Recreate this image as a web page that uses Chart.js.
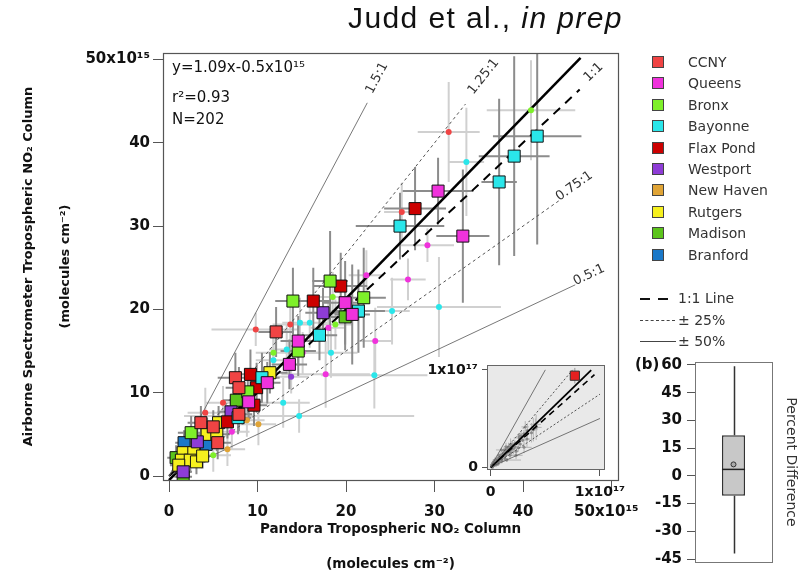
<!DOCTYPE html>
<html>
<head>
<meta charset="utf-8">
<title>Airborne vs Pandora NO2</title>
<script src="https://cdn.jsdelivr.net/npm/chart.js@4.4.1/dist/chart.umd.min.js"></script>
<style>
  body { margin: 0; background: #fff; }
  #wrap { position: relative; width: 800px; height: 571px; overflow: hidden; font-family: "DejaVu Sans", sans-serif; color: #111; }
  canvas { position: absolute; }
  .txt { position: absolute; white-space: nowrap; }
  #title { left: 348px; top: 3px; font: 30px "Liberation Sans", Arial, sans-serif; line-height: 30px; letter-spacing: 1.4px; }
  .stat { left: 172px; font-size: 15px; line-height: 15px; }
  .leg { font-size: 14px; line-height: 14px; color: #333; }
  .sw { position: absolute; width: 10px; height: 10px; border: 1px solid #444; }
  .ln { position: absolute; height: 0; }
</style>
</head>
<body>
<div id="wrap">
  <canvas id="main" width="800" height="582" style="left:0;top:0"></canvas>
  <canvas id="inset" width="250" height="180" style="left:400px;top:340px"></canvas>
  <canvas id="box" width="180" height="236" style="left:620px;top:340px"></canvas>
  <div id="title" class="txt">Judd et al., <i>in prep</i></div>
  <div class="txt stat" style="top:60px">y=1.09x-0.5x10¹⁵</div>
  <div class="txt stat" style="top:90px">r²=0.93</div>
  <div class="txt stat" style="top:112px">N=202</div>
  <div id="legend"></div>
</div>
<script>
// sites and colours
const sites = ['CCNY', 'Queens', 'Bronx', 'Bayonne', 'Flax Pond', 'Westport', 'New Haven', 'Rutgers', 'Madison', 'Branford'];
const siteColors = ['#f04444', '#f032dc', '#7ef02a', '#2ae6ea', '#cc0000', '#8e3cd6', '#e0a436', '#f6f01e', '#5cc41c', '#1a78c8'];

// [x, y, xErr, yErr] in 1e15 molecules cm-2, squares
const ccnySq = [[12.1, 17.3, 2, 3], [7.5, 11.8, 2, 3], [7.9, 10.6, 1.5, 2.5], [7.9, 7.4, 1.5, 2], [3.6, 6.4, 1.5, 2], [5.0, 5.9, 1.5, 2], [5.5, 4.0, 1.5, 2]];
const queensSq = [[30.4, 34.2, 4, 4], [33.2, 28.8, 3, 8], [19.9, 20.8, 2.5, 5], [20.7, 19.4, 2, 6], [14.6, 16.2, 2, 3], [13.6, 13.4, 2, 3], [11.1, 11.2, 1.5, 2.5], [9.0, 8.9, 1.5, 2]];
const bronxSq = [[18.2, 23.4, 2, 6], [14.0, 21.0, 2, 4], [22.0, 21.4, 2.5, 6], [14.6, 15.0, 2, 3], [8.9, 10.1, 1.5, 2.5], [2.5, 5.2, 1.5, 2]];
const bayonneSq = [[41.6, 40.8, 5, 13], [39.0, 38.4, 4, 12], [37.3, 35.3, 2, 10], [26.1, 30.0, 5, 4], [21.4, 19.8, 3, 5], [17.0, 16.9, 2, 3], [10.5, 11.8, 2, 3], [7.8, 7.0, 1.5, 2]];
const flaxSq = [[27.8, 32.1, 3.5, 5], [19.4, 22.8, 3, 4], [16.3, 21.0, 2, 4], [9.2, 12.2, 2, 3], [9.9, 10.6, 2, 3], [9.6, 8.5, 1.5, 2.5], [6.6, 6.5, 1.5, 2]];
const westportSq = [[17.4, 19.6, 2, 3], [7.0, 7.7, 1.5, 2], [3.2, 4.1, 1.5, 2], [1.6, 0.5, 1, 1]];
const newHavenSq = [];
const rutgersSq = [[11.4, 12.4, 2, 2.5], [5.6, 6.4, 1.5, 2], [4.3, 5.0, 1.5, 2], [5.4, 5.0, 1.5, 2], [1.6, 2.8, 1, 1.5], [2.8, 2.8, 1, 1.5], [1.4, 1.9, 1, 1.5], [2.4, 1.9, 1, 1.5], [3.1, 1.7, 1, 1.5], [3.8, 2.4, 1, 1.5], [1.1, 1.3, 1, 1]];
const madisonSq = [[19.9, 19.1, 2, 4], [7.6, 9.1, 1.5, 2.5], [0.8, 2.2, 1, 1.5], [1.6, -0.1, 1, 1]];
const branfordSq = [[4.2, 3.8, 1.5, 2], [1.7, 4.0, 1, 1.5]];

// small dots
const ccnyDot = [[31.6, 41.3, 3.5, 6], [26.3, 31.7, 2, 3.5], [9.8, 17.6, 5, 2], [13.7, 18.2, 2, 3], [4.1, 7.6, 2, 3], [6.1, 8.8, 2, 2]];
const queensDot = [[29.2, 27.7, 3, 2], [27.0, 23.6, 2, 2.5], [23.3, 16.2, 2, 4], [17.7, 12.2, 5, 4], [18.0, 17.8, 2, 3], [22.3, 24.1, 2, 3], [7.1, 5.3, 2, 2], [15.1, 14.8, 2, 2.5]];
const bronxDot = [[40.9, 43.9, 5, 6], [18.5, 21.5, 2, 3], [18.8, 18.2, 2, 3], [11.8, 14.8, 2, 2.5], [5.0, 2.5, 2, 2]];
const bayonneDot = [[33.6, 37.7, 2, 6.5], [30.5, 20.3, 7, 6], [25.2, 19.8, 2, 4], [23.2, 12.1, 6, 4], [18.3, 14.8, 3, 3], [14.8, 18.4, 2, 3], [15.9, 18.4, 2, 3], [13.3, 15.2, 2, 3], [11.8, 13.9, 2, 3], [12.9, 8.8, 3, 3], [14.7, 7.2, 13, 2]];
const flaxDot = [];
const westportDot = [[13.8, 11.9, 2, 2]];
const newHavenDot = [[10.1, 6.2, 2, 2.5], [8.8, 6.7, 2, 2], [6.6, 3.2, 2, 2]];
const rutgersDot = [];
const madisonDot = [];
const branfordDot = [];

// inset point outside the main range, 1e17 units
const insetPoint = [[0.77, 0.94, 0, 0.08]];

// reference lines
const refLabels = ['1.5:1', '1.25:1', '1:1', '0.75:1', '0.5:1'];
const refSlopes = [2, 1.333, 1, 0.75, 0.5];
const refEnds = [22.4, 33.5, 46.4, 44.2, 45.9];
const refLabelX = [23.8, 35.8, 48.2, 46.0, 47.6];
const insetRefEnds = [0.5, 0.75, 0.95, 1.0, 1.0];
const fitSlope = 1.09, fitIntercept = -0.5, fitEnd = 46.5, insetFitEnd = 0.92;

// ticks
const xTicks = [0, 10, 20, 30, 40, 50];
const yTicks = [0, 10, 20, 30, 40, 50];
const insetTicks = [0, 1];
const boxTicks = [-45, -30, -15, 0, 15, 30, 45, 60];

// percent difference box plot
const boxQuartiles = [-10.8, 3.5, 22];
const boxWhiskers = [-42, 59.3];
const boxMean = [6.2];

const squareSets = [ccnySq, queensSq, bronxSq, bayonneSq, flaxSq, westportSq, newHavenSq, rutgersSq, madisonSq, branfordSq];
const dotSets = [ccnyDot, queensDot, bronxDot, bayonneDot, flaxDot, westportDot, newHavenDot, rutgersDot, madisonDot, branfordDot];

const FONT = 'DejaVu Sans';
const toPts = (arr, k = 1) => arr.map(([x, y, ex, ey]) => ({ x: x * k, y: y * k, ex: ex * k, ey: ey * k }));
const refStyle = [
  { c: '#555', w: 0.8, d: [] }, { c: '#555', w: 1, d: [3, 3] }, { c: '#000', w: 2, d: [9, 7] },
  { c: '#555', w: 1, d: [3, 3] }, { c: '#555', w: 0.8, d: [] }
];

function lineSet(pts, st, order) {
  return { data: pts, showLine: true, pointRadius: 0, borderColor: st.c, borderWidth: st.w, borderDash: st.d, order };
}

const errorBars = {
  id: 'errorBars',
  beforeDatasetsDraw(chart) {
    const { ctx, chartArea: a, scales: { x, y } } = chart;
    ctx.save();
    ctx.beginPath();
    ctx.rect(a.left, a.top, a.width, a.height);
    ctx.clip();
    [0, 1].forEach(layer => {
      chart.data.datasets.forEach(ds => {
        if (!ds.errColor || ds.errLayer !== layer) return;
        ctx.strokeStyle = ds.errColor;
        ctx.lineWidth = ds.errWidth;
        ctx.beginPath();
        ds.data.forEach(p => {
          const px = x.getPixelForValue(p.x), py = y.getPixelForValue(p.y);
          ctx.moveTo(x.getPixelForValue(p.x - p.ex), py);
          ctx.lineTo(x.getPixelForValue(p.x + p.ex), py);
          ctx.moveTo(px, y.getPixelForValue(p.y - p.ey));
          ctx.lineTo(px, y.getPixelForValue(p.y + p.ey));
        });
        ctx.stroke();
      });
    });
    ctx.restore();
  }
};

const frame = {
  id: 'frame',
  beforeDraw(chart, args, opts) {
    if (!opts.fill) return;
    const a = chart.chartArea;
    chart.ctx.save();
    chart.ctx.fillStyle = opts.fill;
    chart.ctx.fillRect(a.left, a.top, a.width, a.height);
    chart.ctx.restore();
  },
  afterDraw(chart, args, opts) {
    const { ctx, chartArea: a } = chart;
    ctx.save();
    ctx.strokeStyle = opts.color || '#555';
    ctx.lineWidth = opts.width || 1;
    ctx.strokeRect(Math.round(a.left) + 0.5, Math.round(a.top) + 0.5, Math.round(a.width), Math.round(a.height));
    ctx.restore();
  }
};

const lineLabels = {
  id: 'lineLabels',
  afterDatasetsDraw(chart) {
    const { ctx, scales: { x, y } } = chart;
    ctx.save();
    ctx.font = '13px "' + FONT + '"';
    ctx.fillStyle = '#333';
    ctx.textAlign = 'center';
    ctx.textBaseline = 'middle';
    refLabels.forEach((t, i) => {
      const lx = refLabelX[i];
      const px = x.getPixelForValue(lx), py = y.getPixelForValue(lx * refSlopes[i]);
      const ang = Math.atan2(y.getPixelForValue(0) - y.getPixelForValue(refSlopes[i]), x.getPixelForValue(1) - x.getPixelForValue(0));
      ctx.save();
      ctx.translate(px, py);
      ctx.rotate(-ang);
      ctx.fillText(t, 0, -3);
      ctx.restore();
    });
    ctx.restore();
  }
};

const tickFont = { family: FONT, size: 15, weight: 'bold' };
const setTicks = list => s => { s.ticks = list.map(v => ({ value: v })); };

// main scatter
const mainSets = [];
squareSets.forEach((arr, i) => {
  if (!arr.length) return;
  mainSets.push({ label: sites[i], data: toPts(arr), backgroundColor: siteColors[i], borderColor: '#111', borderWidth: 1,
    pointStyle: 'rect', pointRadius: 8.5, errColor: '#8c8c8c', errWidth: 2, errLayer: 1, order: 0 });
});
dotSets.forEach((arr, i) => {
  if (!arr.length) return;
  mainSets.push({ label: sites[i], data: toPts(arr), backgroundColor: siteColors[i], borderWidth: 0,
    pointStyle: 'circle', pointRadius: 3, errColor: '#d0d0d0', errWidth: 2, errLayer: 0, order: 1 });
});
refSlopes.forEach((m, i) => mainSets.push(lineSet([{ x: 0, y: 0 }, { x: refEnds[i], y: refEnds[i] * m }], refStyle[i], 2)));
mainSets.push(lineSet([{ x: 0, y: fitIntercept }, { x: fitEnd, y: fitSlope * fitEnd + fitIntercept }], { c: '#000', w: 2.5, d: [] }, 2));

new Chart(document.getElementById('main'), {
  type: 'scatter',
  data: { datasets: mainSets },
  options: {
    responsive: false, animation: false, events: [],
    layout: { padding: { top: 53, right: 182, left: 0, bottom: 0 }, autoPadding: false },
    plugins: { legend: { display: false }, tooltip: { enabled: false }, frame: { color: '#555', width: 1.2 } },
    scales: {
      x: {
        type: 'linear', min: -0.68, max: 50.73,
        afterBuildTicks: setTicks(xTicks),
        afterFit: s => { s.height = 102; },
        grid: { drawOnChartArea: false, tickLength: 12, color: '#555' },
        border: { color: '#555' },
        ticks: { font: tickFont, color: '#111', padding: 11, maxRotation: 0, autoSkip: false,
          callback: v => v === 50 ? '50x10¹⁵  ' : String(v) },
        title: { display: true, text: ['Pandora Tropospheric NO₂ Column', '(molecules cm⁻²)'], color: '#111',
          font: { family: FONT, size: 13.5, weight: 'bold', lineHeight: '35px' }, padding: 0 }
      },
      y: {
        type: 'linear', min: -0.48, max: 50.78,
        afterBuildTicks: setTicks(yTicks),
        afterFit: s => { s.width = 163; },
        grid: { drawOnChartArea: false, tickLength: 10, color: '#555' },
        border: { color: '#555' },
        ticks: { font: tickFont, color: '#111', padding: 3, autoSkip: false,
          callback: v => v === 50 ? '50x10¹⁵' : String(v) },
        title: { display: true, text: ['Airborne Spectrometer Tropospheric NO₂ Column', '(molecules cm⁻²)'], color: '#111',
          font: { family: FONT, size: 13, weight: 'bold', lineHeight: '37px' }, padding: { top: 10, bottom: 0 } }
      }
    }
  },
  plugins: [errorBars, frame, lineLabels]
});

// inset, 1e17 units
const allPts = squareSets.concat(dotSets).flat();
const insetSets = [
  { data: toPts(insetPoint), backgroundColor: '#e42020', borderColor: '#333', borderWidth: 1, pointStyle: 'rect',
    pointRadius: 6.5, errColor: '#999', errWidth: 1, errLayer: 1, order: 0 },
  { data: toPts(allPts, 0.01), backgroundColor: '#8a8a8a', borderWidth: 0, pointRadius: 1.5,
    errColor: '#b4b4b4', errWidth: 1, errLayer: 0, order: 2 }
];
refSlopes.forEach((m, i) => insetSets.push(lineSet([{ x: 0, y: 0 }, { x: insetRefEnds[i], y: insetRefEnds[i] * m }],
  { c: refStyle[i].c, w: Math.min(refStyle[i].w, 1.6), d: refStyle[i].d.map(v => v * 0.7) }, 1)));
insetSets.push(lineSet([{ x: 0, y: fitIntercept / 100 }, { x: insetFitEnd, y: fitSlope * insetFitEnd + fitIntercept / 100 }], { c: '#000', w: 1.8, d: [] }, 1));

const insetFont = { family: FONT, size: 14, weight: 'bold' };
new Chart(document.getElementById('inset'), {
  type: 'scatter',
  data: { datasets: insetSets },
  options: {
    responsive: false, animation: false, events: [],
    layout: { padding: { top: 25, right: 46, left: 0, bottom: 0 }, autoPadding: false },
    plugins: { legend: { display: false }, tooltip: { enabled: false }, frame: { fill: '#e9e9e9', color: '#666' } },
    scales: {
      x: {
        type: 'linear', min: -0.034, max: 1.037,
        afterBuildTicks: setTicks(insetTicks),
        afterFit: s => { s.height = 51; },
        grid: { drawOnChartArea: false, tickLength: 7, color: '#555' },
        border: { color: '#666' },
        ticks: { font: insetFont, color: '#111', padding: 8, maxRotation: 0, autoSkip: false,
          callback: v => v === 1 ? '1x10¹⁷' : '0' }
      },
      y: {
        type: 'linear', min: -0.02, max: 1.05,
        afterBuildTicks: setTicks(insetTicks),
        afterFit: s => { s.width = 87; },
        grid: { drawOnChartArea: false, tickLength: 5, color: '#555' },
        border: { color: '#666' },
        ticks: { font: insetFont, color: '#111', padding: 4, autoSkip: false,
          callback: v => v === 1 ? '1x10¹⁷' : '0' }
      }
    }
  },
  plugins: [errorBars, frame]
});

// box plot
const whiskers = {
  id: 'whiskers',
  beforeDatasetsDraw(chart) {
    const { ctx, scales: { x, y } } = chart;
    const cx = Math.round(x.getPixelForValue(0)) + 0.5;
    ctx.save();
    ctx.strokeStyle = '#333';
    ctx.lineWidth = 1.5;
    ctx.beginPath();
    ctx.moveTo(cx, y.getPixelForValue(boxWhiskers[0]));
    ctx.lineTo(cx, y.getPixelForValue(boxQuartiles[0]));
    ctx.moveTo(cx, y.getPixelForValue(boxQuartiles[2]));
    ctx.lineTo(cx, y.getPixelForValue(boxWhiskers[1]));
    ctx.stroke();
    ctx.restore();
  },
  afterDatasetsDraw(chart) {
    const { ctx, scales: { x, y } } = chart;
    const bar = chart.getDatasetMeta(1).data[0];
    const cx = x.getPixelForValue(0), hw = bar.width / 2;
    const my = y.getPixelForValue(boxQuartiles[1]);
    ctx.save();
    ctx.strokeStyle = '#222';
    ctx.lineWidth = 1.5;
    ctx.beginPath();
    ctx.moveTo(cx - hw, my);
    ctx.lineTo(cx + hw, my);
    ctx.stroke();
    ctx.font = 'bold 15px "' + FONT + '"';
    ctx.fillStyle = '#111';
    ctx.textBaseline = 'middle';
    ctx.fillText('(b)', 15, y.getPixelForValue(60));
    ctx.restore();
  }
};

new Chart(document.getElementById('box'), {
  type: 'bar',
  data: {
    labels: [''],
    datasets: [
      { type: 'line', data: boxMean, showLine: false, pointRadius: 2.5, backgroundColor: '#aaa', borderColor: '#333', borderWidth: 1, order: 0 },
      { data: [[boxQuartiles[0], boxQuartiles[2]]], backgroundColor: '#c8c8c8', borderColor: '#333', borderWidth: 1.5,
        borderSkipped: false, barPercentage: 0.3, categoryPercentage: 1, order: 1 }
    ]
  },
  options: {
    responsive: false, animation: false, events: [],
    layout: { padding: { top: 22, bottom: 14, left: 0, right: 0 }, autoPadding: false },
    plugins: { legend: { display: false }, tooltip: { enabled: false }, frame: { color: '#777' } },
    scales: {
      x: { display: false },
      y: {
        min: -46.6, max: 61.6,
        afterBuildTicks: setTicks(boxTicks),
        afterFit: s => { s.width = 75; },
        grid: { drawOnChartArea: false, tickLength: 8, color: '#555' },
        border: { color: '#777' },
        ticks: { font: tickFont, color: '#111', padding: 5, autoSkip: false }
      },
      yR: {
        position: 'right', min: -46.6, max: 61.6,
        afterFit: s => { s.width = 28; },
        grid: { display: false }, border: { display: false }, ticks: { display: false },
        title: { display: true, text: 'Percent Difference', color: '#333', font: { family: FONT, size: 14 }, padding: { top: 1, bottom: 0 } }
      }
    }
  },
  plugins: [whiskers, frame]
});

// legend
const legend = document.getElementById('legend');
sites.forEach((name, i) => {
  const cy = 62 + i * 21.4;
  const sw = document.createElement('div');
  sw.className = 'sw';
  sw.style.left = '652px';
  sw.style.top = (cy - 6) + 'px';
  sw.style.background = siteColors[i];
  legend.appendChild(sw);
  const t = document.createElement('div');
  t.className = 'txt leg';
  t.style.left = '688px';
  t.style.top = (cy - 7) + 'px';
  t.textContent = name;
  legend.appendChild(t);
});
const lineLegend = [
  { text: '1:1 Line', y: 298, css: [['640px', '10px', '2px solid #111'], ['658px', '10px', '2px solid #111']] },
  { text: '± 25%', y: 320, css: [['640px', '35px', '1px dashed #444']] },
  { text: '± 50%', y: 341, css: [['640px', '36px', '1px solid #444']] }
];
lineLegend.forEach(r => {
  r.css.forEach(([l, w, b]) => {
    const d = document.createElement('div');
    d.className = 'ln';
    d.style.left = l; d.style.width = w; d.style.top = r.y + 'px'; d.style.borderTop = b;
    legend.appendChild(d);
  });
  const t = document.createElement('div');
  t.className = 'txt leg';
  t.style.left = '678px';
  t.style.top = (r.y - 7) + 'px';
  t.textContent = r.text;
  legend.appendChild(t);
});
</script>
</body>
</html>
